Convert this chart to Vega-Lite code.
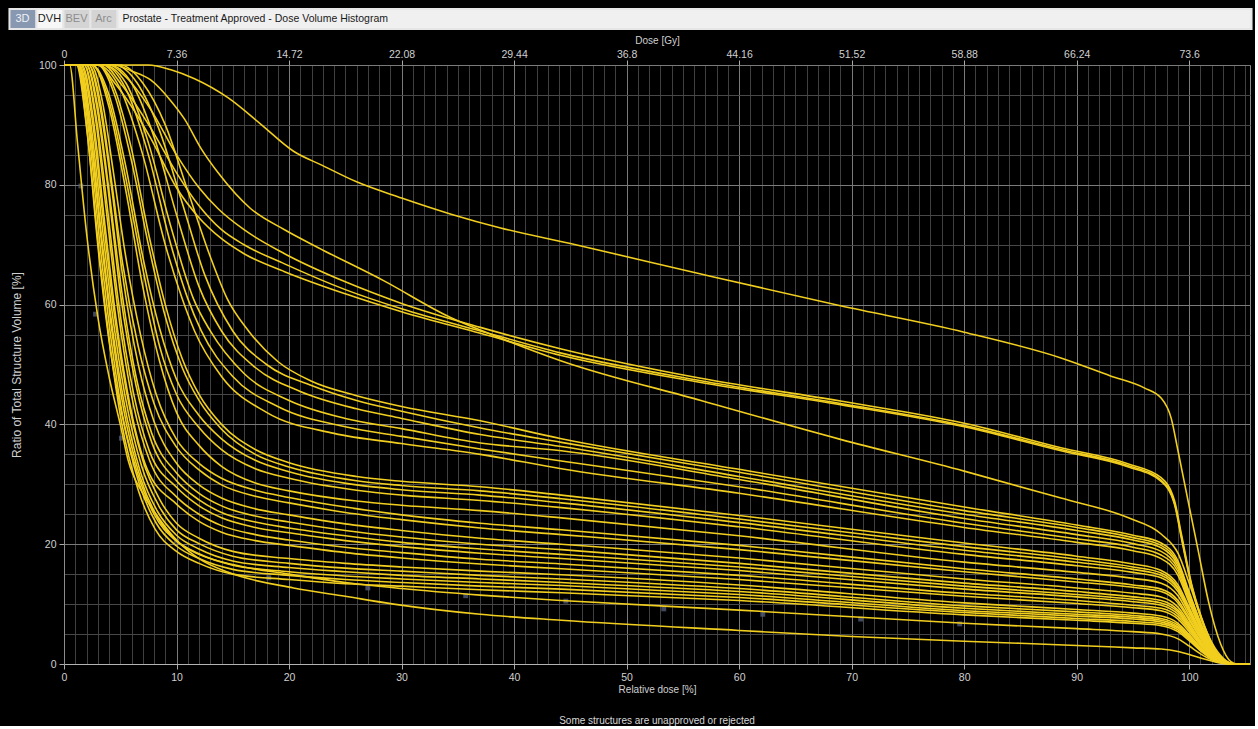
{
  "$schema": "https://vega.github.io/schema/vega-lite/v6.json",
  "background": "#000000",
  "padding": {"left": 8, "top": 8, "right": 1, "bottom": 0},
  "spacing": 4,
  "config": {
    "view": {"stroke": null},
    "font": "'Liberation Sans', Arial, sans-serif"
  },
  "datasets": {
    "tabs": [
      {"tab": "3D", "a": 0, "b": 1, "kind": "sel"},
      {"tab": "DVH", "a": 1, "b": 2, "kind": "on"},
      {"tab": "BEV", "a": 2, "b": 3, "kind": "off"},
      {"tab": "Arc", "a": 3, "b": 4, "kind": "off"},
      {"tab": "Prostate - Treatment Approved - Dose Volume Histogram", "a": 4, "b": 46, "kind": "title"}
    ],
    "marks": [
      {"x": 1.5, "y": 79.8}, {"x": 2.8, "y": 58.4}, {"x": 5.1, "y": 37.7}, {"x": 10, "y": 20.5},
      {"x": 18.2, "y": 14.4}, {"x": 27, "y": 12.7}, {"x": 35.7, "y": 11.4}, {"x": 44.6, "y": 10.5},
      {"x": 53.3, "y": 9.2}, {"x": 62.1, "y": 8.3}, {"x": 70.8, "y": 7.5}, {"x": 79.6, "y": 6.7}
    ],
    "dvh": [
      {"s":"A","x":0,"y":100},{"s":"A","x":7.5,"y":100},{"s":"A","x":9.5,"y":99.2},{"s":"A","x":11.6,"y":97.7},{"s":"A","x":14.6,"y":94.5},{"s":"A","x":17.5,"y":90.1},{"s":"A","x":20.4,"y":85.6},{"s":"A","x":23,"y":83.2},{"s":"A","x":26,"y":80.5},{"s":"A","x":30,"y":77.8},{"s":"A","x":34.4,"y":75.1},{"s":"A","x":38.8,"y":72.8},{"s":"A","x":45,"y":70.2},{"s":"A","x":56.6,"y":65.1},{"s":"A","x":69,"y":59.8},{"s":"A","x":80,"y":55.4},{"s":"A","x":88.6,"y":51.1},{"s":"A","x":93,"y":48.1},{"s":"A","x":96,"y":46.1},{"s":"A","x":97.5,"y":44.4},{"s":"A","x":98.4,"y":41},{"s":"A","x":99,"y":35.6},{"s":"A","x":99.9,"y":27.2},{"s":"A","x":100.8,"y":18.9},{"s":"A","x":101.7,"y":10.5},{"s":"A","x":102.8,"y":3.3},{"s":"A","x":103.7,"y":0.4},{"s":"A","x":104.3,"y":0},{"s":"A","x":105.4,"y":0},

      {"s":"B1","x":0,"y":100},{"s":"B1","x":4,"y":100},{"s":"B1","x":5.5,"y":98},{"s":"B1","x":7.7,"y":92.6},{"s":"B1","x":10,"y":85},{"s":"B1","x":12,"y":79.5},{"s":"B1","x":13.7,"y":76},{"s":"B1","x":16,"y":72.5},{"s":"B1","x":19.6,"y":68.5},{"s":"B1","x":25,"y":63.8},{"s":"B1","x":30,"y":60.2},{"s":"B1","x":37,"y":56.2},{"s":"B1","x":44.2,"y":52.6},{"s":"B1","x":56.6,"y":47.7},{"s":"B1","x":69,"y":43.9},{"s":"B1","x":80,"y":40.2},{"s":"B1","x":88.6,"y":36.1},{"s":"B1","x":94.6,"y":33.4},{"s":"B1","x":97.5,"y":31.1},{"s":"B1","x":98.7,"y":27.2},{"s":"B1","x":99.3,"y":21.7},{"s":"B1","x":100.2,"y":13.4},{"s":"B1","x":101.1,"y":7.7},{"s":"B1","x":102.2,"y":2.7},{"s":"B1","x":103.5,"y":0},{"s":"B1","x":105.4,"y":0},

      {"s":"B2","x":0,"y":100},{"s":"B2","x":3.5,"y":100},{"s":"B2","x":5,"y":97},{"s":"B2","x":7.7,"y":89.5},{"s":"B2","x":10,"y":82},{"s":"B2","x":12,"y":76.5},{"s":"B2","x":14,"y":72.5},{"s":"B2","x":16,"y":70},{"s":"B2","x":19.6,"y":66.8},{"s":"B2","x":25,"y":62.5},{"s":"B2","x":30,"y":59.3},{"s":"B2","x":37,"y":55.6},{"s":"B2","x":44.2,"y":51.9},{"s":"B2","x":56.6,"y":47.3},{"s":"B2","x":69,"y":43.5},{"s":"B2","x":80,"y":39.8},{"s":"B2","x":88.6,"y":35.8},{"s":"B2","x":94.6,"y":33.1},{"s":"B2","x":97.5,"y":30.7},{"s":"B2","x":98.7,"y":26.8},{"s":"B2","x":99.3,"y":21.3},{"s":"B2","x":100.2,"y":13.2},{"s":"B2","x":101.1,"y":7.5},{"s":"B2","x":102.2,"y":2.6},{"s":"B2","x":103.5,"y":0},{"s":"B2","x":105.4,"y":0},

      {"s":"B3","x":0,"y":100},{"s":"B3","x":3,"y":100},{"s":"B3","x":4.5,"y":97},{"s":"B3","x":7.7,"y":87.8},{"s":"B3","x":10,"y":79.5},{"s":"B3","x":12,"y":74.5},{"s":"B3","x":14,"y":71},{"s":"B3","x":16,"y":68.5},{"s":"B3","x":19.6,"y":65.5},{"s":"B3","x":25,"y":61.8},{"s":"B3","x":30,"y":58.8},{"s":"B3","x":37,"y":55.2},{"s":"B3","x":44.2,"y":51.5},{"s":"B3","x":56.6,"y":47},{"s":"B3","x":69,"y":43.3},{"s":"B3","x":80,"y":39.6},{"s":"B3","x":88.6,"y":35.6},{"s":"B3","x":94.6,"y":32.9},{"s":"B3","x":97.5,"y":30.5},{"s":"B3","x":98.7,"y":26.6},{"s":"B3","x":99.3,"y":21},{"s":"B3","x":100.2,"y":13},{"s":"B3","x":101.1,"y":7.3},{"s":"B3","x":102.2,"y":2.5},{"s":"B3","x":103.5,"y":0},{"s":"B3","x":105.4,"y":0},

      {"s":"D","x":0,"y":100},{"s":"D","x":4.5,"y":100},{"s":"D","x":6,"y":99},{"s":"D","x":7.7,"y":97.5},{"s":"D","x":9.5,"y":94},{"s":"D","x":10.7,"y":91},{"s":"D","x":12.2,"y":86},{"s":"D","x":13.7,"y":82},{"s":"D","x":16.6,"y":76},{"s":"D","x":19.6,"y":72.5},{"s":"D","x":22.6,"y":69.5},{"s":"D","x":28.4,"y":64},{"s":"D","x":34.4,"y":57.8},{"s":"D","x":38,"y":55},{"s":"D","x":44.2,"y":50.6},{"s":"D","x":56.6,"y":44},{"s":"D","x":69,"y":37.5},{"s":"D","x":80,"y":32.2},{"s":"D","x":88.6,"y":27.7},{"s":"D","x":94.6,"y":24.4},{"s":"D","x":97.5,"y":21.7},{"s":"D","x":99,"y":18.5},{"s":"D","x":100,"y":13.5},{"s":"D","x":101,"y":8},{"s":"D","x":102,"y":3.6},{"s":"D","x":103,"y":1},{"s":"D","x":104,"y":0},{"s":"D","x":105.4,"y":0},

      {"s":"M1","x":0,"y":100},{"s":"M1","x":5,"y":100},{"s":"M1","x":7,"y":97},{"s":"M1","x":9,"y":90},{"s":"M1","x":11,"y":79},{"s":"M1","x":13,"y":68},{"s":"M1","x":14.5,"y":61},{"s":"M1","x":16.4,"y":55.6},{"s":"M1","x":19,"y":50.5},{"s":"M1","x":22,"y":47.2},{"s":"M1","x":26,"y":44.8},{"s":"M1","x":30,"y":43},{"s":"M1","x":37,"y":40.6},{"s":"M1","x":44.2,"y":37.6},{"s":"M1","x":60,"y":32.5},{"s":"M1","x":80,"y":26.2},{"s":"M1","x":90,"y":23.2},{"s":"M1","x":95,"y":21.5},{"s":"M1","x":97.5,"y":20.2},{"s":"M1","x":99,"y":17.2},{"s":"M1","x":100,"y":12},{"s":"M1","x":101,"y":7},{"s":"M1","x":102,"y":2.9},{"s":"M1","x":103,"y":0.8},{"s":"M1","x":104,"y":0},{"s":"M1","x":105.4,"y":0},

      {"s":"M2","x":0,"y":100},{"s":"M2","x":4.5,"y":100},{"s":"M2","x":6.5,"y":97},{"s":"M2","x":8.5,"y":89},{"s":"M2","x":10.5,"y":77},{"s":"M2","x":12.5,"y":65},{"s":"M2","x":15,"y":55.6},{"s":"M2","x":18,"y":50},{"s":"M2","x":22,"y":46.5},{"s":"M2","x":26,"y":44},{"s":"M2","x":30,"y":42.2},{"s":"M2","x":37,"y":39.4},{"s":"M2","x":44.2,"y":37},{"s":"M2","x":60,"y":32},{"s":"M2","x":80,"y":25.6},{"s":"M2","x":90,"y":22.8},{"s":"M2","x":95,"y":21.1},{"s":"M2","x":97.5,"y":19.8},{"s":"M2","x":99,"y":16.8},{"s":"M2","x":100,"y":11.7},{"s":"M2","x":101,"y":6.8},{"s":"M2","x":102,"y":2.8},{"s":"M2","x":103,"y":0.8},{"s":"M2","x":104,"y":0},{"s":"M2","x":105.4,"y":0},

      {"s":"M3","x":0,"y":100},{"s":"M3","x":4,"y":100},{"s":"M3","x":6,"y":97},{"s":"M3","x":8,"y":88},{"s":"M3","x":10,"y":75},{"s":"M3","x":12,"y":63},{"s":"M3","x":14,"y":55.6},{"s":"M3","x":17,"y":49.5},{"s":"M3","x":21,"y":45.5},{"s":"M3","x":26,"y":42.6},{"s":"M3","x":30,"y":41},{"s":"M3","x":37,"y":38.3},{"s":"M3","x":44.2,"y":36.3},{"s":"M3","x":60,"y":31.3},{"s":"M3","x":80,"y":25},{"s":"M3","x":90,"y":22.3},{"s":"M3","x":95,"y":20.7},{"s":"M3","x":97.5,"y":19.4},{"s":"M3","x":99,"y":16.4},{"s":"M3","x":100,"y":11.4},{"s":"M3","x":101,"y":6.6},{"s":"M3","x":102,"y":2.7},{"s":"M3","x":103,"y":0.7},{"s":"M3","x":104,"y":0},{"s":"M3","x":105.4,"y":0},

      {"s":"M4","x":0,"y":100},{"s":"M4","x":3.5,"y":100},{"s":"M4","x":5.5,"y":97},{"s":"M4","x":7.5,"y":87},{"s":"M4","x":9.5,"y":73},{"s":"M4","x":11.5,"y":61},{"s":"M4","x":13,"y":55.6},{"s":"M4","x":16,"y":48.5},{"s":"M4","x":20,"y":44},{"s":"M4","x":25,"y":41},{"s":"M4","x":30,"y":39.3},{"s":"M4","x":37,"y":36.9},{"s":"M4","x":44.2,"y":35.6},{"s":"M4","x":60,"y":30.8},{"s":"M4","x":80,"y":24.3},{"s":"M4","x":90,"y":21.6},{"s":"M4","x":95,"y":20.1},{"s":"M4","x":97.5,"y":18.8},{"s":"M4","x":99,"y":15.9},{"s":"M4","x":100,"y":11},{"s":"M4","x":101,"y":6.4},{"s":"M4","x":102,"y":2.6},{"s":"M4","x":103,"y":0.7},{"s":"M4","x":104,"y":0},{"s":"M4","x":105.4,"y":0},

      {"s":"M5","x":0,"y":100},{"s":"M5","x":3.5,"y":100},{"s":"M5","x":5.5,"y":96},{"s":"M5","x":7.5,"y":85},{"s":"M5","x":9.5,"y":70},{"s":"M5","x":11,"y":61},{"s":"M5","x":12.2,"y":55.6},{"s":"M5","x":15,"y":48},{"s":"M5","x":19,"y":43},{"s":"M5","x":25,"y":39.6},{"s":"M5","x":30,"y":38},{"s":"M5","x":37,"y":35.9},{"s":"M5","x":44.2,"y":33.9},{"s":"M5","x":60,"y":29.6},{"s":"M5","x":80,"y":23.5},{"s":"M5","x":90,"y":20.9},{"s":"M5","x":95,"y":19.5},{"s":"M5","x":97.5,"y":18.2},{"s":"M5","x":99,"y":15.4},{"s":"M5","x":100,"y":10.6},{"s":"M5","x":101,"y":6.1},{"s":"M5","x":102,"y":2.5},{"s":"M5","x":103,"y":0.7},{"s":"M5","x":104,"y":0},{"s":"M5","x":105.4,"y":0},

      {"s":"M6","x":0,"y":100},{"s":"M6","x":3,"y":100},{"s":"M6","x":5,"y":96},{"s":"M6","x":7,"y":85},{"s":"M6","x":9,"y":70},{"s":"M6","x":10.5,"y":61},{"s":"M6","x":11.6,"y":55.6},{"s":"M6","x":14,"y":48},{"s":"M6","x":18,"y":42},{"s":"M6","x":24,"y":38.5},{"s":"M6","x":30,"y":36.8},{"s":"M6","x":37,"y":35},{"s":"M6","x":44.2,"y":32.6},{"s":"M6","x":60,"y":28.5},{"s":"M6","x":80,"y":22.8},{"s":"M6","x":90,"y":20.3},{"s":"M6","x":95,"y":18.9},{"s":"M6","x":97.5,"y":17.6},{"s":"M6","x":99,"y":14.8},{"s":"M6","x":100,"y":10.2},{"s":"M6","x":101,"y":5.9},{"s":"M6","x":102,"y":2.4},{"s":"M6","x":103,"y":0.6},{"s":"M6","x":104,"y":0},{"s":"M6","x":105.4,"y":0},

      {"s":"N1","x":0,"y":100},{"s":"N1","x":3,"y":100},{"s":"N1","x":4.5,"y":96},{"s":"N1","x":6,"y":86},{"s":"N1","x":7.5,"y":72},{"s":"N1","x":9,"y":60},{"s":"N1","x":10.5,"y":51},{"s":"N1","x":12,"y":45},{"s":"N1","x":14,"y":40},{"s":"N1","x":17,"y":35.8},{"s":"N1","x":20,"y":33.6},{"s":"N1","x":26,"y":31.3},{"s":"N1","x":30,"y":30.5},{"s":"N1","x":37,"y":29.6},{"s":"N1","x":44.2,"y":28.2},{"s":"N1","x":60,"y":24.8},{"s":"N1","x":80,"y":20.2},{"s":"N1","x":90,"y":18},{"s":"N1","x":95,"y":16.7},{"s":"N1","x":97.5,"y":15.6},{"s":"N1","x":99,"y":13.2},{"s":"N1","x":100,"y":9.4},{"s":"N1","x":101,"y":5.5},{"s":"N1","x":102,"y":2.3},{"s":"N1","x":103,"y":0.6},{"s":"N1","x":104,"y":0},{"s":"N1","x":105.4,"y":0},

      {"s":"N2","x":0,"y":100},{"s":"N2","x":3,"y":100},{"s":"N2","x":4.5,"y":95},{"s":"N2","x":6,"y":84},{"s":"N2","x":7.5,"y":70},{"s":"N2","x":9,"y":58},{"s":"N2","x":10.5,"y":49.5},{"s":"N2","x":12,"y":44},{"s":"N2","x":14,"y":39.2},{"s":"N2","x":17,"y":35},{"s":"N2","x":20,"y":32.9},{"s":"N2","x":26,"y":30.6},{"s":"N2","x":30,"y":29.8},{"s":"N2","x":37,"y":28.9},{"s":"N2","x":44.2,"y":27.6},{"s":"N2","x":60,"y":24.2},{"s":"N2","x":80,"y":19.6},{"s":"N2","x":90,"y":17.5},{"s":"N2","x":95,"y":16.2},{"s":"N2","x":97.5,"y":15.2},{"s":"N2","x":99,"y":12.8},{"s":"N2","x":100,"y":9.1},{"s":"N2","x":101,"y":5.3},{"s":"N2","x":102,"y":2.2},{"s":"N2","x":103,"y":0.6},{"s":"N2","x":104,"y":0},{"s":"N2","x":105.4,"y":0},

      {"s":"N3","x":0,"y":100},{"s":"N3","x":2.5,"y":100},{"s":"N3","x":4,"y":95},{"s":"N3","x":5.5,"y":83},{"s":"N3","x":7,"y":68},{"s":"N3","x":8.5,"y":56},{"s":"N3","x":10,"y":47.5},{"s":"N3","x":12,"y":41.5},{"s":"N3","x":14,"y":37.6},{"s":"N3","x":17,"y":34},{"s":"N3","x":20,"y":32.1},{"s":"N3","x":26,"y":29.9},{"s":"N3","x":30,"y":29.1},{"s":"N3","x":37,"y":28.2},{"s":"N3","x":44.2,"y":26.9},{"s":"N3","x":60,"y":23.6},{"s":"N3","x":80,"y":19},{"s":"N3","x":90,"y":17},{"s":"N3","x":95,"y":15.8},{"s":"N3","x":97.5,"y":14.8},{"s":"N3","x":99,"y":12.5},{"s":"N3","x":100,"y":8.9},{"s":"N3","x":101,"y":5.2},{"s":"N3","x":102,"y":2.1},{"s":"N3","x":103,"y":0.5},{"s":"N3","x":104,"y":0},{"s":"N3","x":105.4,"y":0},

      {"s":"N4","x":0,"y":100},{"s":"N4","x":2.5,"y":100},{"s":"N4","x":4,"y":94},{"s":"N4","x":5.5,"y":81},{"s":"N4","x":7,"y":66},{"s":"N4","x":8.5,"y":53},{"s":"N4","x":10,"y":45},{"s":"N4","x":12,"y":39.5},{"s":"N4","x":14,"y":35.8},{"s":"N4","x":17,"y":32.6},{"s":"N4","x":20,"y":31},{"s":"N4","x":26,"y":29},{"s":"N4","x":30,"y":28.2},{"s":"N4","x":37,"y":27.3},{"s":"N4","x":44.2,"y":26.1},{"s":"N4","x":60,"y":22.9},{"s":"N4","x":80,"y":18.3},{"s":"N4","x":90,"y":16.4},{"s":"N4","x":95,"y":15.3},{"s":"N4","x":97.5,"y":14.4},{"s":"N4","x":99,"y":12.1},{"s":"N4","x":100,"y":8.6},{"s":"N4","x":101,"y":5},{"s":"N4","x":102,"y":2},{"s":"N4","x":103,"y":0.5},{"s":"N4","x":104,"y":0},{"s":"N4","x":105.4,"y":0},

      {"s":"N5","x":0,"y":100},{"s":"N5","x":2.5,"y":100},{"s":"N5","x":4,"y":93},{"s":"N5","x":5.5,"y":79},{"s":"N5","x":7,"y":63},{"s":"N5","x":8.5,"y":50.5},{"s":"N5","x":10,"y":42},{"s":"N5","x":12,"y":36.5},{"s":"N5","x":14,"y":33},{"s":"N5","x":17,"y":30.2},{"s":"N5","x":20,"y":28.9},{"s":"N5","x":26,"y":27.2},{"s":"N5","x":30,"y":26.5},{"s":"N5","x":37,"y":25.6},{"s":"N5","x":44.2,"y":24.4},{"s":"N5","x":60,"y":21.4},{"s":"N5","x":80,"y":17},{"s":"N5","x":90,"y":15.3},{"s":"N5","x":95,"y":14.3},{"s":"N5","x":97.5,"y":13.5},{"s":"N5","x":99,"y":11.4},{"s":"N5","x":100,"y":8.1},{"s":"N5","x":101,"y":4.7},{"s":"N5","x":102,"y":1.9},{"s":"N5","x":103,"y":0.5},{"s":"N5","x":104,"y":0},{"s":"N5","x":105.4,"y":0},

      {"s":"P1","x":0,"y":100},{"s":"P1","x":2.4,"y":100},{"s":"P1","x":3.4,"y":94},{"s":"P1","x":4.4,"y":82},{"s":"P1","x":5.4,"y":69},{"s":"P1","x":6.8,"y":55},{"s":"P1","x":8.2,"y":45},{"s":"P1","x":10,"y":37.5},{"s":"P1","x":12,"y":33.5},{"s":"P1","x":14,"y":31},{"s":"P1","x":17,"y":29},{"s":"P1","x":20,"y":27.8},{"s":"P1","x":25,"y":26.2},{"s":"P1","x":30,"y":24.9},{"s":"P1","x":37,"y":23.5},{"s":"P1","x":44.2,"y":22.4},{"s":"P1","x":60,"y":19.8},{"s":"P1","x":80,"y":15.9},{"s":"P1","x":90,"y":14.2},{"s":"P1","x":95,"y":13.2},{"s":"P1","x":97.5,"y":12.5},{"s":"P1","x":99,"y":10.6},{"s":"P1","x":100,"y":7.6},{"s":"P1","x":101,"y":4.4},{"s":"P1","x":102,"y":1.8},{"s":"P1","x":103,"y":0.5},{"s":"P1","x":104,"y":0},{"s":"P1","x":105.4,"y":0},

      {"s":"P2","x":0,"y":100},{"s":"P2","x":2.2,"y":100},{"s":"P2","x":3.2,"y":94},{"s":"P2","x":4.2,"y":81},{"s":"P2","x":5.2,"y":67},{"s":"P2","x":6.6,"y":53},{"s":"P2","x":8,"y":43.5},{"s":"P2","x":10,"y":36.2},{"s":"P2","x":12,"y":32.4},{"s":"P2","x":14,"y":29.9},{"s":"P2","x":17,"y":28},{"s":"P2","x":20,"y":26.9},{"s":"P2","x":25,"y":25.3},{"s":"P2","x":30,"y":24.1},{"s":"P2","x":37,"y":22.7},{"s":"P2","x":44.2,"y":21.6},{"s":"P2","x":60,"y":19.1},{"s":"P2","x":80,"y":15.4},{"s":"P2","x":90,"y":13.7},{"s":"P2","x":95,"y":12.8},{"s":"P2","x":97.5,"y":12.1},{"s":"P2","x":99,"y":10.2},{"s":"P2","x":100,"y":7.3},{"s":"P2","x":101,"y":4.3},{"s":"P2","x":102,"y":1.7},{"s":"P2","x":103,"y":0.5},{"s":"P2","x":104,"y":0},{"s":"P2","x":105.4,"y":0},

      {"s":"P3","x":0,"y":100},{"s":"P3","x":2.2,"y":100},{"s":"P3","x":3.2,"y":93},{"s":"P3","x":4.2,"y":80},{"s":"P3","x":5.2,"y":65},{"s":"P3","x":6.6,"y":50},{"s":"P3","x":8,"y":40.5},{"s":"P3","x":10,"y":33.5},{"s":"P3","x":12,"y":29.9},{"s":"P3","x":14,"y":27.7},{"s":"P3","x":17,"y":25.9},{"s":"P3","x":20,"y":24.9},{"s":"P3","x":25,"y":23.4},{"s":"P3","x":30,"y":22.3},{"s":"P3","x":37,"y":21},{"s":"P3","x":44.2,"y":20},{"s":"P3","x":60,"y":17.7},{"s":"P3","x":80,"y":14.2},{"s":"P3","x":90,"y":12.7},{"s":"P3","x":95,"y":11.8},{"s":"P3","x":97.5,"y":11.2},{"s":"P3","x":99,"y":9.5},{"s":"P3","x":100,"y":6.8},{"s":"P3","x":101,"y":3.9},{"s":"P3","x":102,"y":1.6},{"s":"P3","x":103,"y":0.4},{"s":"P3","x":104,"y":0},{"s":"P3","x":105.4,"y":0},

      {"s":"P4","x":0,"y":100},{"s":"P4","x":2,"y":100},{"s":"P4","x":3,"y":93},{"s":"P4","x":4,"y":79},{"s":"P4","x":5,"y":64},{"s":"P4","x":6.4,"y":48},{"s":"P4","x":7.8,"y":38.5},{"s":"P4","x":10,"y":31.9},{"s":"P4","x":12,"y":28.5},{"s":"P4","x":14,"y":26.4},{"s":"P4","x":17,"y":24.7},{"s":"P4","x":20,"y":23.7},{"s":"P4","x":25,"y":22.3},{"s":"P4","x":30,"y":21.2},{"s":"P4","x":37,"y":20},{"s":"P4","x":44.2,"y":19.1},{"s":"P4","x":60,"y":16.8},{"s":"P4","x":80,"y":13.5},{"s":"P4","x":90,"y":12.1},{"s":"P4","x":95,"y":11.2},{"s":"P4","x":97.5,"y":10.6},{"s":"P4","x":99,"y":9},{"s":"P4","x":100,"y":6.5},{"s":"P4","x":101,"y":3.7},{"s":"P4","x":102,"y":1.5},{"s":"P4","x":103,"y":0.4},{"s":"P4","x":104,"y":0},{"s":"P4","x":105.4,"y":0},

      {"s":"P5","x":0,"y":100},{"s":"P5","x":2,"y":100},{"s":"P5","x":3,"y":92},{"s":"P5","x":4,"y":78},{"s":"P5","x":5,"y":62},{"s":"P5","x":6.4,"y":46.5},{"s":"P5","x":7.8,"y":37},{"s":"P5","x":10,"y":30.6},{"s":"P5","x":12,"y":27.4},{"s":"P5","x":14,"y":25.3},{"s":"P5","x":17,"y":23.7},{"s":"P5","x":20,"y":22.7},{"s":"P5","x":25,"y":21.4},{"s":"P5","x":30,"y":20.3},{"s":"P5","x":37,"y":19.2},{"s":"P5","x":44.2,"y":18.3},{"s":"P5","x":60,"y":16.2},{"s":"P5","x":80,"y":13},{"s":"P5","x":90,"y":11.6},{"s":"P5","x":95,"y":10.8},{"s":"P5","x":97.5,"y":10.2},{"s":"P5","x":99,"y":8.7},{"s":"P5","x":100,"y":6.2},{"s":"P5","x":101,"y":3.6},{"s":"P5","x":102,"y":1.5},{"s":"P5","x":103,"y":0.4},{"s":"P5","x":104,"y":0},{"s":"P5","x":105.4,"y":0},

      {"s":"P6","x":0,"y":100},{"s":"P6","x":1.8,"y":100},{"s":"P6","x":2.8,"y":92},{"s":"P6","x":3.8,"y":77},{"s":"P6","x":4.8,"y":61},{"s":"P6","x":6.2,"y":45},{"s":"P6","x":7.6,"y":35.5},{"s":"P6","x":10,"y":29.5},{"s":"P6","x":12,"y":26.4},{"s":"P6","x":14,"y":24.4},{"s":"P6","x":17,"y":22.8},{"s":"P6","x":20,"y":21.9},{"s":"P6","x":25,"y":20.6},{"s":"P6","x":30,"y":19.6},{"s":"P6","x":37,"y":18.5},{"s":"P6","x":44.2,"y":17.6},{"s":"P6","x":60,"y":15.6},{"s":"P6","x":80,"y":12.5},{"s":"P6","x":90,"y":11.2},{"s":"P6","x":95,"y":10.4},{"s":"P6","x":97.5,"y":9.8},{"s":"P6","x":99,"y":8.3},{"s":"P6","x":100,"y":6},{"s":"P6","x":101,"y":3.5},{"s":"P6","x":102,"y":1.4},{"s":"P6","x":103,"y":0.4},{"s":"P6","x":104,"y":0},{"s":"P6","x":105.4,"y":0},

      {"s":"P7","x":0,"y":100},{"s":"P7","x":1.8,"y":100},{"s":"P7","x":2.8,"y":91},{"s":"P7","x":3.8,"y":75},{"s":"P7","x":4.8,"y":59},{"s":"P7","x":6.2,"y":43},{"s":"P7","x":7.6,"y":34},{"s":"P7","x":10,"y":27.9},{"s":"P7","x":12,"y":25},{"s":"P7","x":14,"y":23.1},{"s":"P7","x":17,"y":21.6},{"s":"P7","x":20,"y":20.7},{"s":"P7","x":25,"y":19.5},{"s":"P7","x":30,"y":18.6},{"s":"P7","x":37,"y":17.5},{"s":"P7","x":44.2,"y":16.7},{"s":"P7","x":60,"y":14.8},{"s":"P7","x":80,"y":11.8},{"s":"P7","x":90,"y":10.6},{"s":"P7","x":95,"y":9.8},{"s":"P7","x":97.5,"y":9.3},{"s":"P7","x":99,"y":7.9},{"s":"P7","x":100,"y":5.7},{"s":"P7","x":101,"y":3.3},{"s":"P7","x":102,"y":1.3},{"s":"P7","x":103,"y":0.4},{"s":"P7","x":104,"y":0},{"s":"P7","x":105.4,"y":0},

      {"s":"P8","x":0,"y":100},{"s":"P8","x":1.6,"y":100},{"s":"P8","x":2.6,"y":91},{"s":"P8","x":3.6,"y":74},{"s":"P8","x":4.6,"y":58},{"s":"P8","x":6,"y":42},{"s":"P8","x":7.4,"y":32.5},{"s":"P8","x":10,"y":26.7},{"s":"P8","x":12,"y":23.8},{"s":"P8","x":14,"y":22},{"s":"P8","x":17,"y":20.6},{"s":"P8","x":20,"y":19.8},{"s":"P8","x":25,"y":18.6},{"s":"P8","x":30,"y":17.7},{"s":"P8","x":37,"y":16.7},{"s":"P8","x":44.2,"y":15.9},{"s":"P8","x":60,"y":14.1},{"s":"P8","x":80,"y":11.3},{"s":"P8","x":90,"y":10.1},{"s":"P8","x":95,"y":9.4},{"s":"P8","x":97.5,"y":8.9},{"s":"P8","x":99,"y":7.5},{"s":"P8","x":100,"y":5.4},{"s":"P8","x":101,"y":3.1},{"s":"P8","x":102,"y":1.3},{"s":"P8","x":103,"y":0.4},{"s":"P8","x":104,"y":0},{"s":"P8","x":105.4,"y":0},

      {"s":"Q1","x":0,"y":100},{"s":"Q1","x":1.5,"y":100},{"s":"Q1","x":2.5,"y":91},{"s":"Q1","x":3.5,"y":74},{"s":"Q1","x":4.5,"y":58},{"s":"Q1","x":5.5,"y":46},{"s":"Q1","x":7,"y":34},{"s":"Q1","x":8.5,"y":27.5},{"s":"Q1","x":10,"y":23.5},{"s":"Q1","x":12,"y":21},{"s":"Q1","x":15,"y":18.8},{"s":"Q1","x":20,"y":17.6},{"s":"Q1","x":25,"y":16.8},{"s":"Q1","x":30,"y":16.2},{"s":"Q1","x":37,"y":15.5},{"s":"Q1","x":44.2,"y":14.9},{"s":"Q1","x":60,"y":13.2},{"s":"Q1","x":80,"y":10.2},{"s":"Q1","x":90,"y":9.1},{"s":"Q1","x":95,"y":8.5},{"s":"Q1","x":97.5,"y":8},{"s":"Q1","x":99,"y":6.8},{"s":"Q1","x":100,"y":4.9},{"s":"Q1","x":101,"y":2.8},{"s":"Q1","x":102,"y":1.1},{"s":"Q1","x":103,"y":0.3},{"s":"Q1","x":104,"y":0},{"s":"Q1","x":105.4,"y":0},

      {"s":"Q2","x":0,"y":100},{"s":"Q2","x":1.4,"y":100},{"s":"Q2","x":2.4,"y":90},{"s":"Q2","x":3.4,"y":73},{"s":"Q2","x":4.4,"y":57},{"s":"Q2","x":5.4,"y":45},{"s":"Q2","x":6.9,"y":33},{"s":"Q2","x":8.4,"y":26.5},{"s":"Q2","x":10,"y":22.4},{"s":"Q2","x":12,"y":20.1},{"s":"Q2","x":15,"y":18},{"s":"Q2","x":20,"y":16.8},{"s":"Q2","x":25,"y":16},{"s":"Q2","x":30,"y":15.5},{"s":"Q2","x":37,"y":14.8},{"s":"Q2","x":44.2,"y":14.2},{"s":"Q2","x":60,"y":12.6},{"s":"Q2","x":80,"y":9.7},{"s":"Q2","x":90,"y":8.7},{"s":"Q2","x":95,"y":8.1},{"s":"Q2","x":97.5,"y":7.6},{"s":"Q2","x":99,"y":6.5},{"s":"Q2","x":100,"y":4.7},{"s":"Q2","x":101,"y":2.7},{"s":"Q2","x":102,"y":1.1},{"s":"Q2","x":103,"y":0.3},{"s":"Q2","x":104,"y":0},{"s":"Q2","x":105.4,"y":0},

      {"s":"Q3","x":0,"y":100},{"s":"Q3","x":1.3,"y":100},{"s":"Q3","x":2.3,"y":90},{"s":"Q3","x":3.3,"y":72},{"s":"Q3","x":4.3,"y":56},{"s":"Q3","x":5.3,"y":44},{"s":"Q3","x":6.8,"y":32},{"s":"Q3","x":8.3,"y":25.5},{"s":"Q3","x":10,"y":21.5},{"s":"Q3","x":12,"y":19.2},{"s":"Q3","x":15,"y":17.2},{"s":"Q3","x":20,"y":16.1},{"s":"Q3","x":25,"y":15.4},{"s":"Q3","x":30,"y":14.8},{"s":"Q3","x":37,"y":14.2},{"s":"Q3","x":44.2,"y":13.6},{"s":"Q3","x":60,"y":12.1},{"s":"Q3","x":80,"y":9.3},{"s":"Q3","x":90,"y":8.3},{"s":"Q3","x":95,"y":7.8},{"s":"Q3","x":97.5,"y":7.3},{"s":"Q3","x":99,"y":6.2},{"s":"Q3","x":100,"y":4.5},{"s":"Q3","x":101,"y":2.6},{"s":"Q3","x":102,"y":1},{"s":"Q3","x":103,"y":0.3},{"s":"Q3","x":104,"y":0},{"s":"Q3","x":105.4,"y":0},

      {"s":"Q4","x":0,"y":100},{"s":"Q4","x":1.3,"y":100},{"s":"Q4","x":2.3,"y":89},{"s":"Q4","x":3.3,"y":71},{"s":"Q4","x":4.3,"y":55},{"s":"Q4","x":5.3,"y":42.5},{"s":"Q4","x":6.8,"y":31},{"s":"Q4","x":8.3,"y":24.5},{"s":"Q4","x":10,"y":20.6},{"s":"Q4","x":12,"y":18.4},{"s":"Q4","x":15,"y":16.5},{"s":"Q4","x":20,"y":15.4},{"s":"Q4","x":25,"y":14.7},{"s":"Q4","x":30,"y":14.2},{"s":"Q4","x":37,"y":13.6},{"s":"Q4","x":44.2,"y":13.1},{"s":"Q4","x":60,"y":11.6},{"s":"Q4","x":80,"y":8.9},{"s":"Q4","x":90,"y":8},{"s":"Q4","x":95,"y":7.5},{"s":"Q4","x":97.5,"y":7},{"s":"Q4","x":99,"y":6},{"s":"Q4","x":100,"y":4.3},{"s":"Q4","x":101,"y":2.5},{"s":"Q4","x":102,"y":1},{"s":"Q4","x":103,"y":0.3},{"s":"Q4","x":104,"y":0},{"s":"Q4","x":105.4,"y":0},

      {"s":"Q5","x":0,"y":100},{"s":"Q5","x":1.2,"y":100},{"s":"Q5","x":2.2,"y":89},{"s":"Q5","x":3.2,"y":70},{"s":"Q5","x":4.2,"y":54},{"s":"Q5","x":5.2,"y":41.5},{"s":"Q5","x":6.7,"y":30},{"s":"Q5","x":8.2,"y":23.5},{"s":"Q5","x":10,"y":19.7},{"s":"Q5","x":12,"y":17.6},{"s":"Q5","x":15,"y":15.8},{"s":"Q5","x":20,"y":14.8},{"s":"Q5","x":25,"y":14.1},{"s":"Q5","x":30,"y":13.6},{"s":"Q5","x":37,"y":13},{"s":"Q5","x":44.2,"y":12.5},{"s":"Q5","x":60,"y":11.1},{"s":"Q5","x":80,"y":8.6},{"s":"Q5","x":90,"y":7.6},{"s":"Q5","x":95,"y":7.1},{"s":"Q5","x":97.5,"y":6.7},{"s":"Q5","x":99,"y":5.7},{"s":"Q5","x":100,"y":4.1},{"s":"Q5","x":101,"y":2.3},{"s":"Q5","x":102,"y":0.9},{"s":"Q5","x":103,"y":0.3},{"s":"Q5","x":104,"y":0},{"s":"Q5","x":105.4,"y":0},

      {"s":"Q6","x":0,"y":100},{"s":"Q6","x":1.1,"y":100},{"s":"Q6","x":2.1,"y":88},{"s":"Q6","x":3.1,"y":69},{"s":"Q6","x":4.1,"y":53},{"s":"Q6","x":5.1,"y":40.5},{"s":"Q6","x":6.6,"y":29},{"s":"Q6","x":8.1,"y":22.5},{"s":"Q6","x":10,"y":18.8},{"s":"Q6","x":12,"y":16.8},{"s":"Q6","x":15,"y":15},{"s":"Q6","x":20,"y":14.1},{"s":"Q6","x":25,"y":13.4},{"s":"Q6","x":30,"y":13},{"s":"Q6","x":37,"y":12.4},{"s":"Q6","x":44.2,"y":11.9},{"s":"Q6","x":60,"y":10.6},{"s":"Q6","x":80,"y":8.2},{"s":"Q6","x":90,"y":7.3},{"s":"Q6","x":95,"y":6.8},{"s":"Q6","x":97.5,"y":6.4},{"s":"Q6","x":99,"y":5.4},{"s":"Q6","x":100,"y":3.9},{"s":"Q6","x":101,"y":2.2},{"s":"Q6","x":102,"y":0.9},{"s":"Q6","x":103,"y":0.2},{"s":"Q6","x":104,"y":0},{"s":"Q6","x":105.4,"y":0},

      {"s":"L2","x":0,"y":100},{"s":"L2","x":1.2,"y":100},{"s":"L2","x":2,"y":90},{"s":"L2","x":3,"y":70},{"s":"L2","x":4,"y":54},{"s":"L2","x":5,"y":43},{"s":"L2","x":6.5,"y":32},{"s":"L2","x":8,"y":25},{"s":"L2","x":10,"y":20.5},{"s":"L2","x":12,"y":18.3},{"s":"L2","x":15,"y":16.6},{"s":"L2","x":20,"y":15},{"s":"L2","x":25,"y":13.6},{"s":"L2","x":30,"y":12.6},{"s":"L2","x":37,"y":11.5},{"s":"L2","x":44.2,"y":10.6},{"s":"L2","x":60,"y":9},{"s":"L2","x":80,"y":6.8},{"s":"L2","x":90,"y":5.9},{"s":"L2","x":95,"y":5.4},{"s":"L2","x":97.5,"y":5},{"s":"L2","x":99,"y":4.2},{"s":"L2","x":100,"y":3},{"s":"L2","x":101,"y":1.7},{"s":"L2","x":102,"y":0.7},{"s":"L2","x":103,"y":0.2},{"s":"L2","x":104,"y":0},{"s":"L2","x":105.4,"y":0},

      {"s":"L1","x":0,"y":100},{"s":"L1","x":0.5,"y":100},{"s":"L1","x":1.2,"y":87},{"s":"L1","x":2,"y":72},{"s":"L1","x":3,"y":58},{"s":"L1","x":4,"y":48},{"s":"L1","x":5,"y":40},{"s":"L1","x":5.7,"y":34},{"s":"L1","x":7,"y":28.5},{"s":"L1","x":8,"y":25.5},{"s":"L1","x":10.1,"y":20.5},{"s":"L1","x":12,"y":17.6},{"s":"L1","x":14.6,"y":15.3},{"s":"L1","x":20.4,"y":12.7},{"s":"L1","x":25,"y":11.3},{"s":"L1","x":29.3,"y":10},{"s":"L1","x":37,"y":8.3},{"s":"L1","x":44.2,"y":7.3},{"s":"L1","x":60,"y":5.6},{"s":"L1","x":70,"y":4.6},{"s":"L1","x":80,"y":3.8},{"s":"L1","x":90,"y":3.1},{"s":"L1","x":95,"y":2.7},{"s":"L1","x":97.5,"y":2.5},{"s":"L1","x":99,"y":2.1},{"s":"L1","x":100,"y":1.6},{"s":"L1","x":101,"y":1},{"s":"L1","x":102,"y":0.5},{"s":"L1","x":103,"y":0.1},{"s":"L1","x":104,"y":0},{"s":"L1","x":105.4,"y":0}
    ]
  },
  "vconcat": [
    {
      "width": 1187,
      "height": 20,
      "view": {"fill": "#e2e2e2", "stroke": null},
      "data": {"name": "tabs"},
      "layer": [
        {
          "mark": {"type": "rect", "stroke": "#e6e6e6", "strokeWidth": 2},
          "encoding": {
            "x": {"field": "a", "type": "quantitative", "scale": {"domain": [2.02, 45.98], "nice": false, "zero": false}, "axis": null},
            "x2": {"field": "b"},
            "color": {"field": "kind", "type": "nominal", "scale": {"domain": ["sel", "on", "off", "title"], "range": ["#8798b0", "#f7f7f7", "#d4d4d4", "#f0f0f0"]}, "legend": null}
          }
        },
        {
          "transform": [{"filter": "datum.kind !== 'title'"}],
          "mark": {"type": "text", "align": "center", "baseline": "middle", "dx": 13, "fontSize": 11},
          "encoding": {
            "x": {"field": "a", "type": "quantitative"},
            "text": {"field": "tab"},
            "color": {"condition": [{"test": "datum.kind === 'sel'", "value": "#eef1f6"}, {"test": "datum.kind === 'off'", "value": "#8d8d8d"}], "value": "#1a1a1a"}
          }
        },
        {
          "transform": [{"filter": "datum.kind === 'title'"}],
          "mark": {"type": "text", "align": "left", "baseline": "middle", "dx": 5, "fontSize": 10.5, "color": "#1a1a1a"},
          "encoding": {
            "x": {"field": "a", "type": "quantitative"},
            "text": {"field": "tab"}
          }
        }
      ]
    },
    {
      "width": 1186,
      "height": 599,
      "view": {"stroke": "#8c8c8c", "fill": "#000000"},
      "title": {"text": "Some structures are unapproved or rejected", "orient": "bottom", "anchor": "middle", "frame": "group", "offset": 21, "fontSize": 10, "fontWeight": "normal", "color": "#d8d8d8"},
      "layer": [
        {
          "data": {"name": "marks"},
          "mark": {"type": "square", "size": 24, "filled": true, "color": "#56607c", "opacity": 0.75},
          "encoding": {
            "x": {
              "field": "x", "type": "quantitative",
              "scale": {"domain": [0, 105.4], "nice": false, "zero": false},
              "axis": {
                "orient": "bottom",
                "values": [0,1,2,3,4,5,6,7,8,9,10,11,12,13,14,15,16,17,18,19,20,21,22,23,24,25,26,27,28,29,30,31,32,33,34,35,36,37,38,39,40,41,42,43,44,45,46,47,48,49,50,51,52,53,54,55,56,57,58,59,60,61,62,63,64,65,66,67,68,69,70,71,72,73,74,75,76,77,78,79,80,81,82,83,84,85,86,87,88,89,90,91,92,93,94,95,96,97,98,99,100,101,102,103,104,105],
                "title": null, "labels": false, "ticks": false, "domain": false,
                "grid": true,
                "gridColor": {"condition": {"test": "datum.value % 10 === 0", "value": "#7a7a7a"}, "value": "#404040"},
                "gridWidth": 1
              }
            },
            "y": {
              "field": "y", "type": "quantitative",
              "scale": {"domain": [0, 100], "nice": false, "zero": false},
              "axis": {
                "orient": "left",
                "values": [0,5,10,15,20,25,30,35,40,45,50,55,60,65,70,75,80,85,90,95,100],
                "title": null, "labels": false, "ticks": false, "domain": false,
                "grid": true,
                "gridColor": {"condition": {"test": "datum.value % 20 === 0", "value": "#7a7a7a"}, "value": "#484848"},
                "gridWidth": 1
              }
            }
          }
        },
        {
          "data": {"name": "dvh"},
          "mark": {"type": "line", "interpolate": "monotone", "stroke": "#f2cf1f", "strokeWidth": 1.6},
          "encoding": {
            "x": {
              "field": "x", "type": "quantitative",
              "axis": {
                "orient": "bottom",
                "values": [0,10,20,30,40,50,60,70,80,90,100],
                "title": "Relative dose [%]",
                "titleFontSize": 10, "titleFontWeight": "normal", "titleColor": "#d0d0d0", "titlePadding": 2,
                "labelColor": "#d0d0d0", "labelFontSize": 10.5, "labelPadding": 3, "labelFlush": false, "labelOverlap": false, "labelBound": false,
                "tickSize": 5, "tickColor": "#aaaaaa",
                "domainColor": "#b4b4b4",
                "grid": false
              }
            },
            "y": {
              "field": "y", "type": "quantitative",
              "axis": {
                "orient": "left",
                "values": [0,20,40,60,80,100],
                "title": "Ratio of Total Structure Volume [%]",
                "titleFontSize": 12, "titleFontWeight": "normal", "titleColor": "#d0d0d0", "titlePadding": 11,
                "minExtent": 30, "maxExtent": 30,
                "labelColor": "#d0d0d0", "labelFontSize": 10.5, "labelPadding": 3, "labelOverlap": false, "labelBound": false,
                "tickSize": 5, "tickColor": "#aaaaaa",
                "domainColor": "#8c8c8c",
                "grid": false
              }
            },
            "detail": {"field": "s", "type": "nominal"}
          }
        },
        {
          "data": {"name": "dvh"},
          "mark": {"type": "line", "strokeOpacity": 0},
          "encoding": {
            "x": {
              "field": "x", "type": "quantitative",
              "axis": {
                "orient": "top",
                "values": [0,10,20,30,40,50,60,70,80,90,100],
                "title": "Dose [Gy]",
                "titleFontSize": 10, "titleFontWeight": "normal", "titleColor": "#d0d0d0", "titlePadding": 4,
                "labelExpr": "format(datum.value * 0.736, '.2~f')",
                "labelColor": "#d0d0d0", "labelFontSize": 10.5, "labelPadding": 1, "labelFlush": false, "labelOverlap": false,
                "tickSize": 5, "tickColor": "#aaaaaa",
                "domain": false, "grid": false
              }
            },
            "y": {"field": "y", "type": "quantitative", "axis": null},
            "detail": {"field": "s", "type": "nominal"}
          }
        }
      ],
      "resolve": {"axis": {"x": "independent", "y": "independent"}}
    }
  ]
}
